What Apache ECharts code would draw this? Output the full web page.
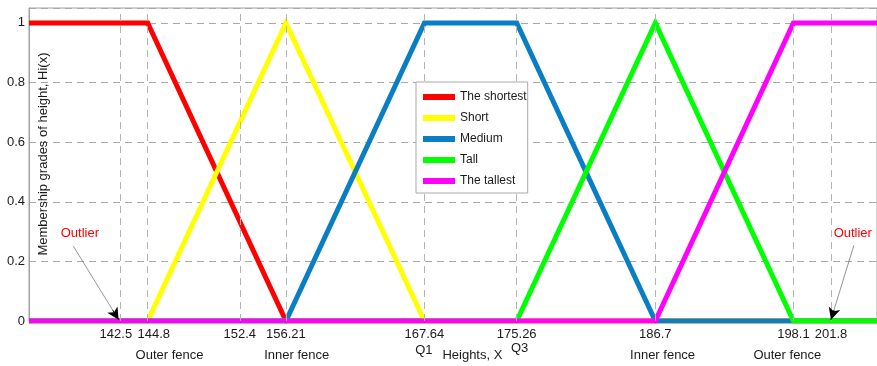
<!DOCTYPE html>
<html><head><meta charset="utf-8">
<script src="https://cdn.jsdelivr.net/npm/echarts@6/dist/echarts.min.js"></script>
<style>html,body{margin:0;padding:0;background:#fff}#c{width:877px;height:366px}</style>
</head><body><div id="c"></div>
<script>
// ---- data ----
const seriesNames = ['The shortest', 'Short', 'Medium', 'Tall', 'The tallest'];
const seriesColors = ['#ff0000', '#ffff00', '#0a7ec5', '#00ff00', '#ff00ff'];
const theShortest = [[135, 1], [144.8, 1], [156.21, 0], [205, 0]];
const shortS = [[135, 0], [144.8, 0], [156.21, 1], [167.64, 0], [205, 0]];
const medium = [[135, 0], [156.21, 0], [167.64, 1], [175.26, 1], [186.7, 0], [205, 0]];
const tall = [[135, 0], [175.26, 0], [186.7, 1], [198.1, 0], [205, 0]];
const theTallest = [[135, 0], [186.7, 0], [198.1, 1], [205, 1]];
const xTickValues = [142.5, 144.8, 152.4, 156.21, 167.64, 175.26, 186.7, 198.1, 201.2];
const xTickLabels = ['142.5', '144.8', '152.4', '156.21', '167.64', '175.26', '186.7', '198.1', '201.8'];
const subLabels = [
  ['Outer fence', 146.6, 355], ['Inner fence', 157.1, 355], ['Q1', 167.6, 350],
  ['Heights, X', 171.6, 355], ['Q3', 175.5, 348.5], ['Inner fence', 187.3, 355], ['Outer fence', 197.6, 355]
];
const outlierArrows = [
  [[138.66, 0.251], [142.4, 0.004]],
  [[203.09, 0.254], [201.2, 0.004]]
];
const outlierTexts = [['Outlier', 139.2, 0.294], ['Outlier', 203.0, 0.294]];
const yAxisTitle = 'Membership grades of height, Hi(x)';

const FONT = '"Liberation Sans", Arial, sans-serif';
const allData = [theShortest, shortS, medium, tall, theTallest];
// small label nudges (pixels of padding) so crowded labels sit apart like the reference
const labelPad = {'142.5': [0, 8, 0, 0], '144.8': [0, 0, 0, 12]};

function headStart(a) {
  const f = 0.13;
  return [a[1][0] + (a[0][0] - a[1][0]) * f, a[1][1] + (a[0][1] - a[1][1]) * f];
}

const chart = echarts.init(document.getElementById('c'), null, {renderer: 'canvas'});
const rich = {};
Object.keys(labelPad).forEach((k, i) => { rich['p' + i] = {padding: labelPad[k], fontFamily: FONT, fontSize: 13, color: '#1a1a1a'}; });
const option = {
  animation: false,
  backgroundColor: '#fff',
  grid: {left: 29, right: 0, top: 8, bottom: 45, show: true, borderColor: '#a0a0a0', borderWidth: 1, backgroundColor: 'transparent'},
  xAxis: {
    type: 'value', min: 135, max: 205,
    axisLine: {show: false}, axisTick: {show: false}, splitLine: {show: false},
    axisLabel: {
      customValues: xTickValues, hideOverlap: false, interval: 0, showMinLabel: true, showMaxLabel: true,
      formatter: v => {
        const i = xTickValues.indexOf(v);
        if (i < 0) return '';
        const t = xTickLabels[i];
        const k = Object.keys(labelPad).indexOf(t);
        return k >= 0 ? '{p' + k + '|' + t + '}' : t;
      },
      rich: rich,
      fontFamily: FONT, fontSize: 13, color: '#1a1a1a', margin: 7
    }
  },
  yAxis: {
    type: 'value', min: 0, max: 1.05, interval: 0.2,
    axisLine: {show: true, lineStyle: {color: '#a0a0a0'}}, axisTick: {show: false},
    splitLine: {show: true, lineStyle: {color: '#a8a8a8', type: [7, 5], width: 1}},
    axisLabel: {
      showMaxLabel: false,
      formatter: v => (v > 1.001 ? '' : String(Math.round(v * 10) / 10)),
      fontFamily: FONT, fontSize: 13, color: '#1a1a1a', margin: 4
    }
  },
  legend: {
    orient: 'vertical', left: 416, top: 82,
    backgroundColor: '#fff', borderColor: '#a8a8a8', borderWidth: 1, borderRadius: 0,
    padding: [9, 1, 6, 7], itemWidth: 32, itemHeight: 6, itemGap: 9, icon: 'rect',
    textStyle: {fontFamily: FONT, fontSize: 12, color: '#1a1a1a'},
    data: seriesNames, z: 20, selectedMode: false
  },
  series: [
    {
      type: 'line', name: '_grid', data: [], silent: true, z: 1,
      markLine: {
        silent: true, symbol: ['none', 'none'], label: {show: false},
        lineStyle: {color: '#b4b4b4', type: [7, 5], width: 1},
        data: xTickValues.map(v => ({xAxis: v}))
      }
    }
  ].concat(allData.map((d, i) => ({
    type: 'line', name: seriesNames[i], data: d, z: 3,
    showSymbol: false, symbol: 'none',
    lineStyle: {width: 5, color: seriesColors[i], join: 'miter'},
    itemStyle: {color: seriesColors[i]}
  }))).concat([
    {
      type: 'line', name: '_arrows', data: [], silent: true, z: 10,
      markLine: {
        silent: true, symbol: ['none', 'none'], label: {show: false},
        lineStyle: {color: '#666', type: 'solid', width: 0.7},
        data: outlierArrows.map(a => [{coord: a[0]}, {coord: a[1]}])
      }
    },
    {
      type: 'line', name: '_heads', data: [], silent: true, z: 11,
      markLine: {
        silent: true, symbol: ['none', 'arrow'], symbolSize: [9, 12], label: {show: false},
        lineStyle: {color: '#000', type: 'solid', width: 1},
        data: outlierArrows.map(a => [{coord: headStart(a)}, {coord: a[1]}])
      }
    }
  ])
};
chart.setOption(option);

const g = [];
subLabels.forEach(s => {
  const p = chart.convertToPixel({gridIndex: 0}, [s[1], 0]);
  g.push({type: 'text', x: p[0], y: s[2], z: 30,
    style: {text: s[0], align: 'center', verticalAlign: 'middle', font: '13px ' + FONT, fill: '#1a1a1a'}});
});
outlierTexts.forEach(s => {
  const p = chart.convertToPixel({gridIndex: 0}, [s[1], s[2]]);
  g.push({type: 'text', x: p[0], y: p[1], z: 30,
    style: {text: s[0], align: 'center', verticalAlign: 'middle', font: '13px ' + FONT, fill: '#ff0000'}});
});
g.push({type: 'text', x: 43, y: 154, rotation: Math.PI / 2, z: 30,
  style: {text: yAxisTitle, align: 'center', verticalAlign: 'middle', font: '13px ' + FONT, fill: '#1a1a1a'}});
chart.setOption({graphic: g});
</script>
</body></html>
